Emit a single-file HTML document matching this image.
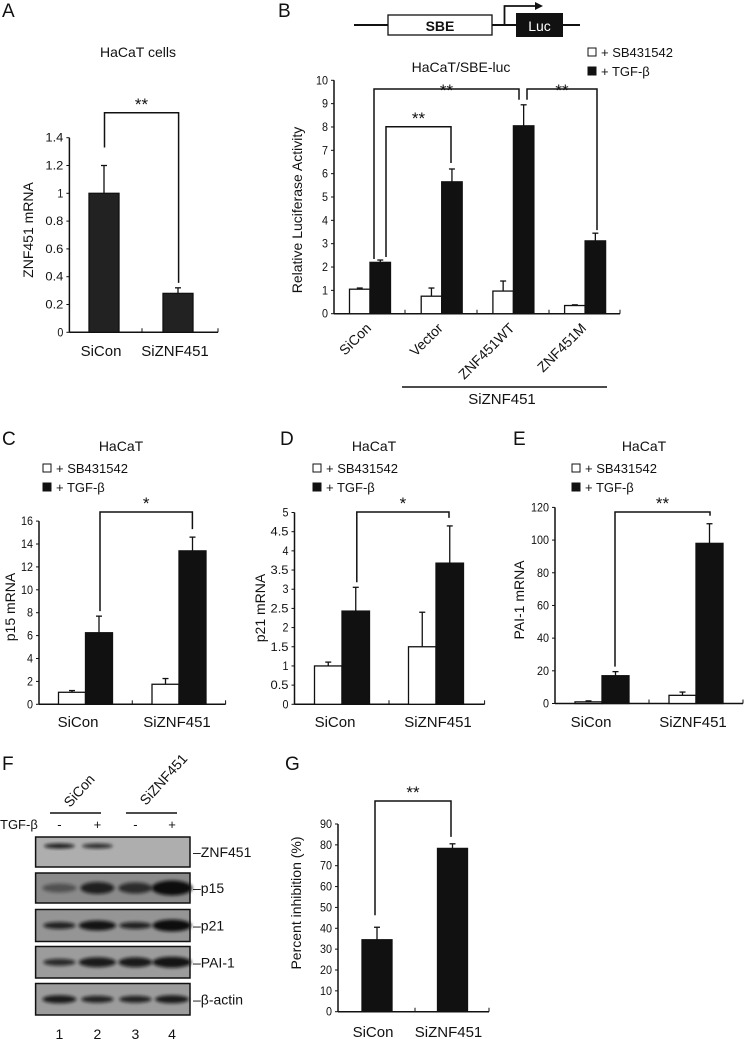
<!DOCTYPE html>
<html><head><meta charset="utf-8"><style>
html,body{margin:0;padding:0;background:#fff;}
svg{display:block;font-family:"Liberation Sans",Arial,sans-serif;}
text{fill:#111;}
</style></head><body>
<svg id="fig" width="745" height="1039" viewBox="0 0 745 1039" xmlns="http://www.w3.org/2000/svg">
<defs><filter id="blur" x="-20%" y="-50%" width="140%" height="200%"><feGaussianBlur stdDeviation="1.6"/></filter></defs>
</svg>
<script>
// ---- Panel A data ----
const aCategories = ["SiCon", "SiZNF451"];
const aValues = [1.0, 0.28];
const aErrors = [1.2, 0.32];
const aTicks = ["0","0.2","0.4","0.6","0.8","1","1.2","1.4"];
// ---- Panel B data ----
const bCategories = ["SiCon", "Vector", "ZNF451WT", "ZNF451M"];
const bSB = [1.05, 0.75, 0.97, 0.35];
const bSBErr = [1.1, 1.1, 1.4, 0.38];
const bTGF = [2.2, 5.65, 8.05, 3.12];
const bTGFErr = [2.3, 6.2, 8.95, 3.45];
const bTicks = ["0","1","2","3","4","5","6","7","8","9","10"];
// ---- Panel C data ----
const cCategories = ["SiCon", "SiZNF451"];
const cSB = [1.05, 1.75];
const cSBErr = [1.2, 2.25];
const cTGF = [6.25, 13.4];
const cTGFErr = [7.7, 14.6];
const cTicks = ["0","2","4","6","8","10","12","14","16"];
// ---- Panel D data ----
const dCategories = ["SiCon", "SiZNF451"];
const dSB = [1.0, 1.5];
const dSBErr = [1.1, 2.4];
const dTGF = [2.43, 3.68];
const dTGFErr = [3.05, 4.65];
const dTicks = ["0","0.5","1","1.5","2","2.5","3","3.5","4","4.5","5"];
// ---- Panel E data ----
const eCategories = ["SiCon", "SiZNF451"];
const eSB = [1, 5];
const eSBErr = [1.6, 7];
const eTGF = [17, 98];
const eTGFErr = [19.5, 110];
const eTicks = ["0","20","40","60","80","100","120"];
// ---- Panel G data ----
const gCategories = ["SiCon", "SiZNF451"];
const gValues = [34.5, 78.3];
const gErrors = [40.5, 80.5];
const gTicks = ["0","10","20","30","40","50","60","70","80","90"];

const svg = document.getElementById('fig');
const NS = 'http://www.w3.org/2000/svg';
function mk(tag, attrs, parent){
  const e = document.createElementNS(NS, tag);
  for (const k in attrs) e.setAttribute(k, attrs[k]);
  (parent || svg).appendChild(e);
  return e;
}
function txt(x, y, s, size, anchor, parent, extra){
  const t = mk('text', Object.assign({x:x, y:y, 'font-size':size, 'text-anchor':anchor||'middle'}, extra||{}), parent);
  t.textContent = s;
  return t;
}
function line(x1,y1,x2,y2,parent,w){
  return mk('line',{x1:x1,y1:y1,x2:x2,y2:y2,stroke:'#111','stroke-width':w||1.5},parent);
}
function scale(y0, yTop, vmax){ return v => y0 - v*(y0-yTop)/vmax; }

function axes(g, ax, axEnd, y0, yTop, ticks, vmax, mids){
  const ys = scale(y0, yTop, vmax);
  const yAxis = line(ax, yTop, ax, y0, g);
  
  
  const xAxis = line(ax, y0, axEnd, y0, g);
  
  
  ticks.forEach((t,i)=>{
    const v = parseFloat(t);
    const yy = ys(v);
    line(ax-3, yy, ax, yy, g, 1);
    const lab = txt(ax-6, yy+4, t, 12, 'end', g, {textLength: 6*t.length, lengthAdjust:'spacingAndGlyphs'});
    
    
  });
  mids.forEach(mx=>line(mx, y0, mx, y0-4, g, 1));
  line(axEnd, y0, axEnd, y0-4, g, 1);
  return ys;
}
function bar(g, cx, w, v, err, ys, y0, fill, name){
  const top = ys(v);
  const r = mk('rect',{x:cx, y:top, width:w, height:y0-top, fill:fill, stroke:'#111','stroke-width':1.3}, g);
  
  
  const et = ys(err);
  const mid = cx + w/2;
  line(mid, top, mid, et, g, 1.3);
  line(mid-3, et, mid+3, et, g, 1.3);
}
function bracket(g, x1, y1, x2, y2, yTop, stars, starY){
  const p = mk('path',{d:`M${x1},${y1} L${x1},${yTop} L${x2},${yTop} L${x2},${y2}`, fill:'none', stroke:'#111','stroke-width':1.5}, g);
  
  
  const s = txt((x1+x2)/2, starY+2, stars, 17, 'middle', g);
  
  
}
function panelLabel(x,y,s){
  const t = txt(x, y, s, 19, 'start');
  
  
}
function ylabel(g, x, y, s){
  const t = txt(x, y, s, 14, 'middle', g, {transform:`rotate(-90 ${x} ${y})`});
  
  
}
function legend(g, x, y1, y2){
  const r1 = mk('rect',{x:x, y:y1-9, width:8, height:8, fill:'#fff', stroke:'#111','stroke-width':1}, g);
  
  
  const t1 = txt(x+13, y1, '+ SB431542', 13, 'start', g);
  
  
  const r2 = mk('rect',{x:x, y:y2-9, width:8, height:8, fill:'#111', stroke:'#111','stroke-width':1}, g);
  
  
  const t2 = txt(x+13, y2, '+ TGF-β', 13, 'start', g);
  
  
}

// ===== Panel A =====
panelLabel(2, 17, 'A');
const gA = mk('g', {});


const tA = txt(138, 57, 'HaCaT cells', 14, 'middle', gA);


const ysA = axes(gA, 69.4, 218, 332.3, 137.7, aTicks, 1.4, [142]);
const aCenters = [104, 178];
aCategories.forEach((c,i)=>{
  bar(gA, aCenters[i]-15, 30, aValues[i], aErrors[i], ysA, 332.3, '#222', 'bar-'+c.toLowerCase());
  const l = txt(aCenters[i]-3, 356, c, 15, 'middle', gA);
  
  
});
ylabel(gA, 33, 230, 'ZNF451 mRNA');
bracket(gA, 104.5, ysA(aErrors[0])-18, 178.6, ysA(aErrors[1])-5, 112.7, '**', 108);

// ===== Panel B =====
panelLabel(278, 17, 'B');
const gB = mk('g', {});


line(354, 25, 580, 25, gB, 2);
const sbe = mk('rect',{x:388, y:15, width:104, height:20, fill:'#fff', stroke:'#111','stroke-width':1.3}, gB);


const sbeT = txt(440, 31, 'SBE', 14, 'middle', gB, {'font-weight':'bold'});


const luc = mk('rect',{x:516, y:13, width:47, height:24, fill:'#111'}, gB);


const lucT = txt(539.5, 31, 'Luc', 14, 'middle', gB);
lucT.setAttribute('style','fill:#fff');


const arr = mk('path',{d:'M504.5,25 L504.5,6 L536,6', fill:'none', stroke:'#111','stroke-width':1.8}, gB);


mk('path',{d:'M535,2 L543,6 L535,10 Z', fill:'#111'}, gB);
legend(gB, 588, 57, 76);
const tB = txt(461, 72, 'HaCaT/SBE-luc', 14, 'middle', gB);


const ysB = axes(gB, 334, 620, 313.7, 80.3, bTicks, 10, [405, 477, 549]);
const bW = 20.5;
bCategories.forEach((c,i)=>{
  const gc = 370 + i*71.7;
  bar(gB, gc-bW, bW, bSB[i], bSBErr[i], ysB, 313.7, '#fff', 'bar-sb431542-'+c.toLowerCase());
  bar(gB, gc, bW, bTGF[i], bTGFErr[i], ysB, 313.7, '#111', 'bar-tgf-beta-'+c.toLowerCase());
  const l = txt(gc+2, 329, c, 14, 'end', gB, {transform:`rotate(-45 ${gc+2} 329)`});
  
  
});
ylabel(gB, 302, 210, 'Relative Luciferase Activity');
const bGroupLine = line(402, 387, 607, 387, gB, 1.5);


const bGroup = txt(502, 404, 'SiZNF451', 15, 'middle', gB);


bracket(gB, 374, ysB(bTGFErr[0])-1, 519, ysB(bTGFErr[2])-5, 89, '**', 94);
bracket(gB, 527, ysB(bTGFErr[2])-5, 597, ysB(bTGFErr[3])-3, 89, '**', 94);
bracket(gB, 386, ysB(bTGFErr[0])-3, 451, ysB(bTGFErr[1])-6, 126.7, '**', 122);

// ===== grouped panels C D E =====
function grouped(label, lx, g, cfg){
  panelLabel(lx, 445, label);
  const t = txt(cfg.titleX, 451, 'HaCaT', 14, 'middle', g);
  
  
  legend(g, cfg.legX, 473, 492);
  const ys = axes(g, cfg.ax, cfg.axEnd, cfg.y0, cfg.yTop, cfg.ticks, cfg.vmax, [(cfg.centers[0]+cfg.centers[1])/2]);
  cfg.cats.forEach((c,i)=>{
    const gc = cfg.centers[i];
    bar(g, gc-cfg.w, cfg.w, cfg.sb[i], cfg.sbErr[i], ys, cfg.y0, '#fff', 'bar-sb431542-'+c.toLowerCase());
    bar(g, gc, cfg.w, cfg.tgf[i], cfg.tgfErr[i], ys, cfg.y0, '#111', 'bar-tgf-beta-'+c.toLowerCase());
    const l = txt(cfg.labX[i], 727, c, 15, 'middle', g);
    
    
  });
  ylabel(g, cfg.ylX, cfg.ylY, cfg.yTitle);
  bracket(g, cfg.br[0], ys(cfg.tgfErr[0])-5, cfg.br[1], ys(cfg.tgfErr[1])-8, 512, cfg.stars, 507);
}
const gC = mk('g', {});


grouped('C', 2, gC, {titleX:121, legX:43, ax:39, axEnd:225.6, y0:704.3, yTop:521.1, vmax:16, ticks:cTicks,
  cats:cCategories, sb:cSB, sbErr:cSBErr, tgf:cTGF, tgfErr:cTGFErr, centers:[85.5,179], w:27, labX:[78,177],
  ylX:15, ylY:607, yTitle:'p15 mRNA', br:[100,192.4], stars:'*'});
const gD = mk('g', {});


grouped('D', 280, gD, {titleX:374, legX:313, ax:294.5, axEnd:484.6, y0:704.3, yTop:512.5, vmax:5, ticks:dTicks,
  cats:dCategories, sb:dSB, sbErr:dSBErr, tgf:dTGF, tgfErr:dTGFErr, centers:[342,436], w:27.5, labX:[335,438],
  ylX:265, ylY:608, yTitle:'p21 mRNA', br:[356.8,449], stars:'*'});
const gE = mk('g', {});


grouped('E', 513, gE, {titleX:644, legX:572, ax:555, axEnd:743, y0:703.5, yTop:507.4, vmax:120, ticks:eTicks,
  cats:eCategories, sb:eSB, sbErr:eSBErr, tgf:eTGF, tgfErr:eTGFErr, centers:[602,696], w:27, labX:[591,693],
  ylX:524, ylY:600, yTitle:'PAI-1 mRNA', br:[615,710], stars:'**'});

// ===== Panel F (western blot) =====
panelLabel(2, 770, 'F');
const gF = mk('g', {});


const lanes = [59.4, 97.4, 135.4, 172];
const rows = [
  {n:'ZNF451', y:837, h:30, bands:[[0.9,3,0.9],[0.8,3,0.9],[0,0,0],[0,0,0]], bg:'#aeaeae', dy:-6},
  {n:'p15', y:873, h:30, bands:[[0.45,7,1],[0.85,10,1],[0.75,9,1],[1,13,1.2]], bg:'#8a8a8a', dy:0},
  {n:'p21', y:909.5, h:32, bands:[[0.85,5,0.95],[0.95,8,1.1],[0.85,5,0.95],[1,10,1.15]], bg:'#959595', dy:0},
  {n:'PAI-1', y:946.5, h:31.5, bands:[[0.8,5,0.95],[0.9,8,1.1],[0.9,8,1.0],[0.95,9,1.15]], bg:'#9c9c9c', dy:0},
  {n:'β-actin', y:983.5, h:31.5, bands:[[0.9,6,1],[0.85,5,0.95],[0.85,5,0.95],[0.9,6,1]], bg:'#9c9c9c', dy:0}
];
rows.forEach(r=>{
  const box = mk('rect',{x:35.6, y:r.y, width:154.4, height:r.h, fill:r.bg, stroke:'#111','stroke-width':1.5}, gF);
  
  
  r.bands.forEach((b,i)=>{
    if (b[0] <= 0) return;
    const e = mk('ellipse',{cx:lanes[i], cy:r.y+r.h/2+r.dy, rx:17*b[2], ry:b[1]/2+1, fill:'#111', opacity:b[0], filter:'url(#blur)'}, gF);
    
    
  });
  const l = txt(193, r.y+r.h/2+5, '–'+r.n, 14, 'start', gF);
  
  
});
['-','+','-','+'].forEach((s,i)=>{
  const t = txt(lanes[i], 829, s, 13, 'middle', gF);
  
  
  const n = txt(lanes[i], 1039, String(i+1), 14, 'middle', gF);
  
  
});
const tgfL = txt(0, 829, 'TGF-β', 13, 'start', gF);


line(50, 813, 101, 813, gF, 1.5);
line(126, 813, 177, 813, gF, 1.5);
const sc = txt(70, 808, 'SiCon', 14, 'start', gF, {transform:'rotate(-48 70 808)'});


const sz = txt(146, 806, 'SiZNF451', 14, 'start', gF, {transform:'rotate(-48 146 806)'});



// ===== Panel G =====
panelLabel(285, 770, 'G');
const gG = mk('g', {});


const ysG = axes(gG, 338, 489, 1011.7, 824, gTicks, 90, [415]);
const gCenters = [377, 452.5];
gCategories.forEach((c,i)=>{
  bar(gG, gCenters[i]-15, 30, gValues[i], gErrors[i], ysG, 1011.7, '#111', 'bar-'+c.toLowerCase());
  const l = txt(gCenters[i]-4, 1037, c, 15, 'middle', gG);
  
  
});
ylabel(gG, 301, 903, 'Percent inhibition (%)');
bracket(gG, 375, ysG(gErrors[0])-12, 451, ysG(gErrors[1])-7, 801, '**', 796);
</script>
</body></html>
